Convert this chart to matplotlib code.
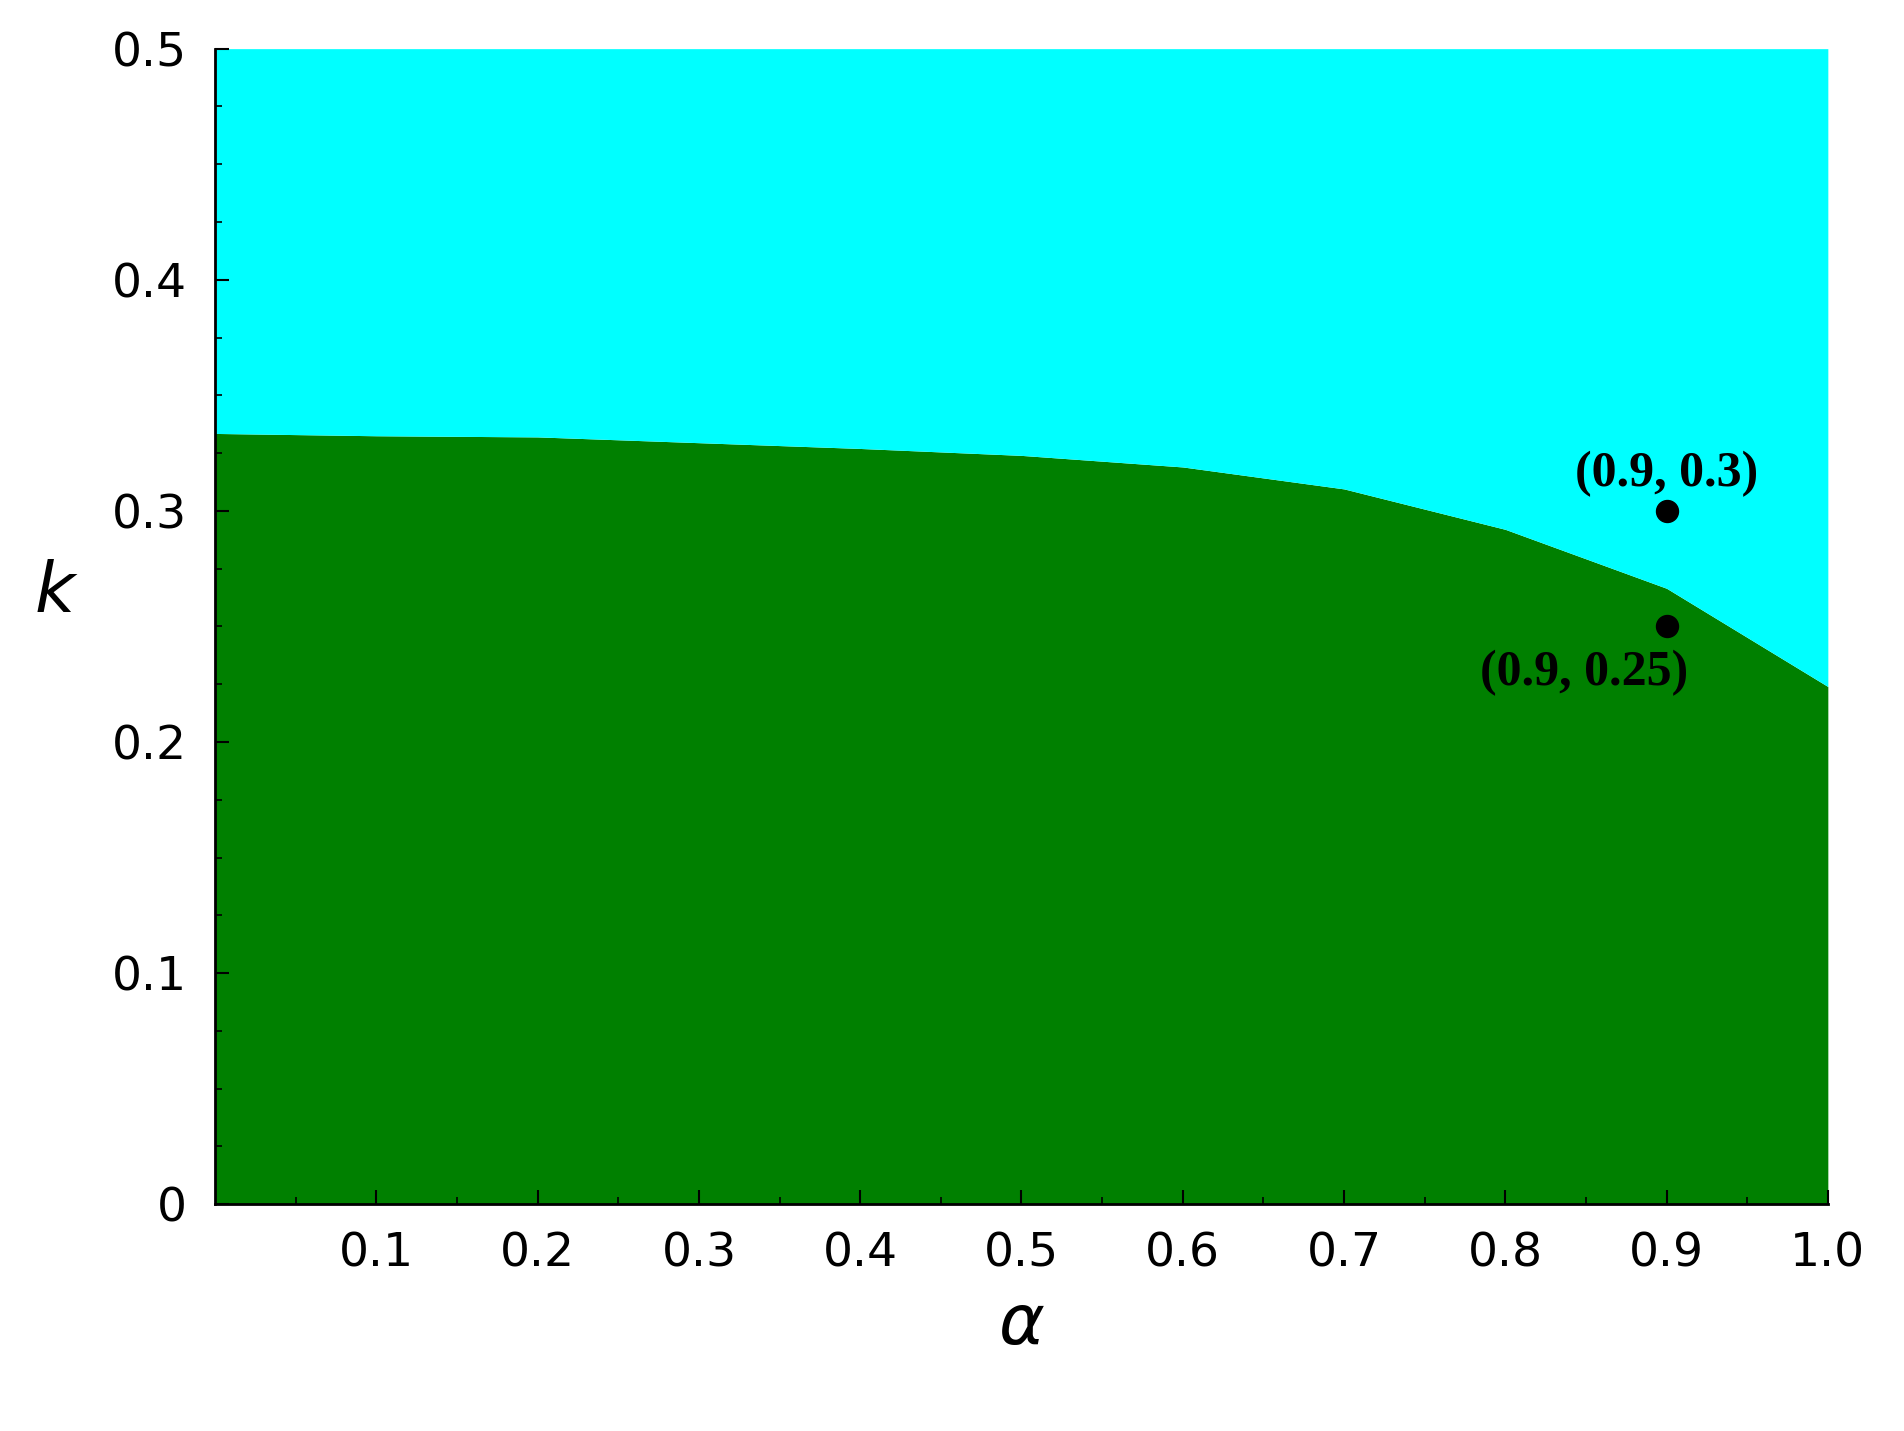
import matplotlib
matplotlib.use("Agg")
import matplotlib.pyplot as plt
import numpy as np

alpha = [0.0, 0.1, 0.2, 0.3, 0.4, 0.5, 0.6, 0.7, 0.8, 0.9, 1.0]
k_boundary = [0.3335, 0.3325, 0.332, 0.3295, 0.327, 0.324, 0.319, 0.3095, 0.292, 0.2665, 0.224]
pts_x = [0.9, 0.9]
pts_y = [0.3, 0.25]
pt_labels = ["(0.9, 0.3)", "(0.9, 0.25)"]
label_pos = [(0.9, 0.316), (0.849, 0.23)]

fig = plt.figure(figsize=(19.04, 14.31), dpi=100)
ax = fig.add_axes([0.113, 0.1585, 0.847, 0.8075])
ax.fill_between(alpha, 0, k_boundary, color="#008000", lw=0)
ax.fill_between(alpha, k_boundary, 0.5, color="#00FFFF", lw=0)
ax.scatter(pts_x, pts_y, s=250, color="black", zorder=5)
for (lx, ly), t in zip(label_pos, pt_labels):
    ax.text(lx, ly, t, ha="center", va="center", fontsize=36, fontweight="bold",
            family="Liberation Serif", zorder=6)
ax.set_xlim(0, 1.0)
ax.set_ylim(0, 0.5)
ax.set_xticks([0.1, 0.2, 0.3, 0.4, 0.5, 0.6, 0.7, 0.8, 0.9, 1.0])
ax.set_xticklabels(["0.1", "0.2", "0.3", "0.4", "0.5", "0.6", "0.7", "0.8", "0.9", "1.0"])
ax.set_yticks([0, 0.1, 0.2, 0.3, 0.4, 0.5])
ax.set_yticklabels(["0", "0.1", "0.2", "0.3", "0.4", "0.5"])
ax.set_xticks(np.arange(0.05, 1.0, 0.1), minor=True)
ax.set_yticks(np.arange(0.025, 0.5, 0.025), minor=True)
ax.tick_params(labelsize=34, width=1.5, length=10, direction="in", pad=20)
ax.tick_params(which="minor", length=5, width=1.2, direction="in")
for s in ["top", "right"]:
    ax.spines[s].set_visible(False)
for s in ["left", "bottom"]:
    ax.spines[s].set_linewidth(2)
ax.set_xlabel(r"$\alpha$", fontsize=50, labelpad=10)
ax.set_ylabel(r"$k$", fontsize=50, rotation=0, labelpad=40)
plt.rcParams["mathtext.fontset"] = "dejavuserif"
fig.savefig("out.png", dpi=100)
